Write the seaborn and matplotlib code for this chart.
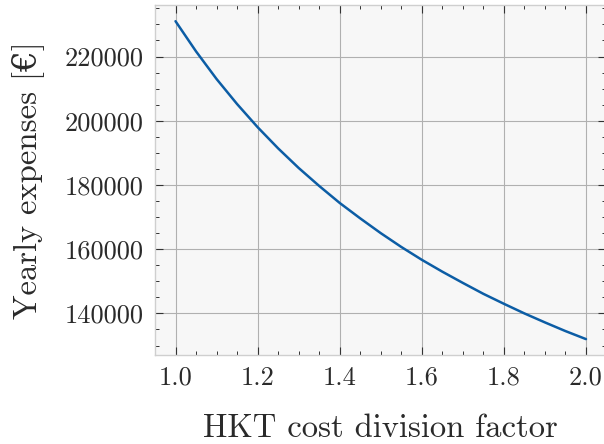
import numpy as np
import pandas as pd
import matplotlib
matplotlib.use("Agg")
import matplotlib.pyplot as plt
import seaborn as sns
from matplotlib.ticker import MultipleLocator

# ==============================
# DATA
# ==============================

division_factor = [1.0, 1.05, 1.1, 1.15, 1.2, 1.25, 1.3, 1.35, 1.4, 1.45, 1.5,
                   1.55, 1.6, 1.65, 1.7, 1.75, 1.8, 1.85, 1.9, 1.95, 2.0]
yearly_expenses = [231000, 221600, 213000, 205200, 198000, 191400, 185300,
                   179700, 174400, 169600, 165000, 160700, 156700, 153000,
                   149500, 146100, 143000, 140000, 137200, 134500, 132000]

df = pd.DataFrame({"factor": division_factor, "expenses": yearly_expenses})

# ==============================
# STYLE
# ==============================

sns.set_theme(style="ticks")
plt.rcParams["font.family"] = ["cmr10", "DejaVu Serif"]
plt.rcParams["axes.formatter.use_mathtext"] = True
plt.rcParams["axes.unicode_minus"] = False
plt.rcParams["text.color"] = "#2a2a2a"
plt.rcParams["axes.labelcolor"] = "#2a2a2a"

# ==============================
# PLOT
# ==============================

fig = plt.figure(figsize=(6.04, 4.44), dpi=100)
ax = fig.add_axes([155 / 604, 1 - 355 / 444, (606.5 - 155) / 604, (355 - 5) / 444])
ax.set_facecolor("#f7f7f7")

sns.lineplot(data=df, x="factor", y="expenses", color="#0C5DA5", linewidth=1.8, ax=ax)

ax.set_xlim(0.95, 2.05)
ax.set_ylim(127050, 236050)
ax.xaxis.set_major_locator(MultipleLocator(0.2))
ax.xaxis.set_minor_locator(MultipleLocator(0.05))
ax.yaxis.set_major_locator(MultipleLocator(20000))
ax.yaxis.set_minor_locator(MultipleLocator(5000))
ax.xaxis.set_major_formatter(plt.FuncFormatter(lambda v, p: f"{v:.1f}"))
ax.yaxis.set_major_formatter(plt.FuncFormatter(lambda v, p: f"{int(round(v))}"))

ax.tick_params(which="both", direction="in", top=True, right=True, colors="#333333",
               labelcolor="#2a2a2a")
ax.tick_params(which="major", length=5.5, width=0.8, labelsize=19, pad=8)
ax.tick_params(which="minor", length=3, width=0.7)

for s in ax.spines.values():
    s.set_color("#cfcfcf")
    s.set_linewidth(1.0)

ax.grid(True, which="major", color="#b0b0b0", linewidth=0.8)

ax.set_xlabel("HKT cost division factor", fontsize=23.5, labelpad=17)
ax.set_ylabel("Yearly expenses [€]", fontsize=23.5, labelpad=15)

fig.savefig("out.png", dpi=100)
plt.close(fig)
